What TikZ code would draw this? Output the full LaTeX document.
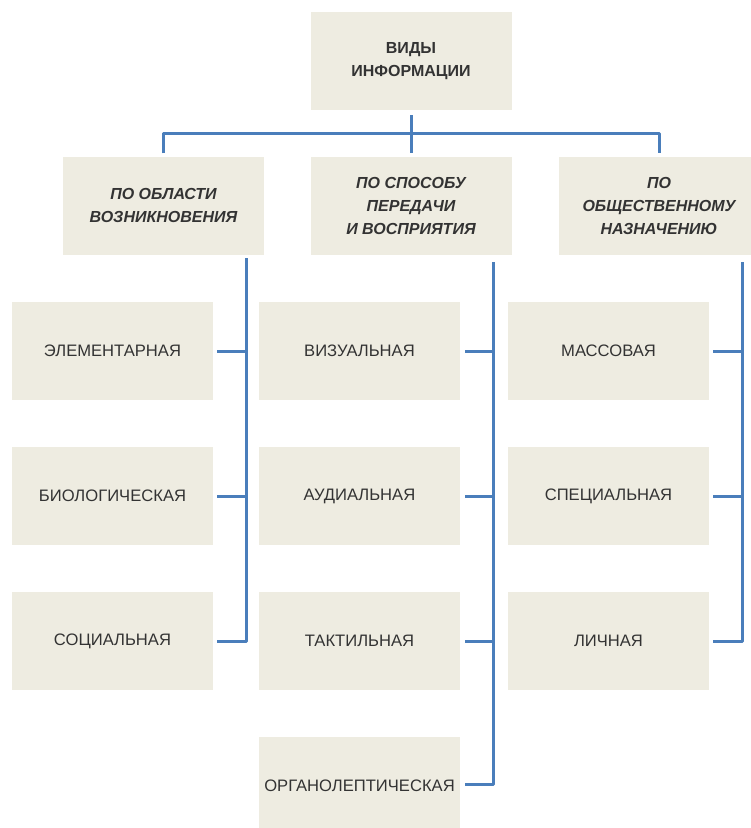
\documentclass[tikz,border=0pt]{standalone}
\usepackage{fontspec}
\setmainfont{Liberation Sans}
\definecolor{boxfill}{HTML}{EEECE1}
\definecolor{linecol}{HTML}{4A7EBB}
\definecolor{txt}{HTML}{333333}
\begin{document}
\begin{tikzpicture}[x=1pt,y=-1pt,
  box/.style={fill=boxfill,draw=none,minimum width=201pt,minimum height=98pt,inner sep=0pt,
    align=center,text=txt,font=\fontsize{16.6}{23}\selectfont},
  head/.style={box,font=\fontsize{16}{23}\selectfont\bfseries},
  cat/.style={box,font=\fontsize{16}{23}\selectfont\bfseries\itshape},
  conn/.style={draw=linecol,line width=3pt,line join=round,line cap=butt}]
\clip (0,0) rectangle (751,828);
\fill[white] (0,0) rectangle (751,828);
% top
\node[head] (top) at (411,61) {ВИДЫ\\ИНФОРМАЦИИ};
% level 2
\node[cat] (ca) at (163.5,205.5) {ПО ОБЛАСТИ\\ВОЗНИКНОВЕНИЯ};
\node[cat] (cb) at (411,205.5) {ПО СПОСОБУ\\ПЕРЕДАЧИ\\И ВОСПРИЯТИЯ};
\node[cat] (cc) at (659,205.5) {ПО\\ОБЩЕСТВЕННОМУ\\НАЗНАЧЕНИЮ};
% column A
\node[box] (a1) at (112.5,351) {ЭЛЕМЕНТАРНАЯ};
\node[box] (a2) at (112.5,496) {БИОЛОГИЧЕСКАЯ};
\node[box] (a3) at (112.5,641) {СОЦИАЛЬНАЯ};
% column B
\node[box] (b1) at (359.5,351) {ВИЗУАЛЬНАЯ};
\node[box] (b2) at (359.5,496) {АУДИАЛЬНАЯ};
\node[box] (b3) at (359.5,641) {ТАКТИЛЬНАЯ};
\node[box] (b4) at (359.5,786) {ОРГАНОЛЕПТИЧЕСКАЯ};
% column C
\node[box] (c1) at (608.5,351) {МАССОВАЯ};
\node[box] (c2) at (608.5,496) {СПЕЦИАЛЬНАЯ};
\node[box] (c3) at (608.5,641) {ЛИЧНАЯ};
% bus
\coordinate (busL) at (163,133);
\coordinate (busR) at (659,133);
\draw[conn] ([yshift=-5pt]top.south) -- (top.south |- busL);
\draw[conn] ([yshift=3pt]ca.north -| busL) -- (busL) -- (busR) -- ([yshift=3pt]cc.north -| busR);
\draw[conn] (top.south |- busL) -- ([yshift=3pt]cb.north);
% spines
\coordinate (sa) at (246,258);
\coordinate (sb) at (493,262);
\coordinate (sc) at (742,262);
\draw[conn] (sa) -- (sa |- a3.east) -- ([xshift=4pt]a3.east);
\draw[conn] ([xshift=4pt]a1.east) -- (sa |- a1.east);
\draw[conn] ([xshift=4pt]a2.east) -- (sa |- a2.east);
\draw[conn] (sb) -- ([yshift=2pt]sb |- b4.east) -- ([xshift=5pt,yshift=2pt]b4.east);
\draw[conn] ([xshift=5pt]b1.east) -- (sb |- b1.east);
\draw[conn] ([xshift=5pt]b2.east) -- (sb |- b2.east);
\draw[conn] ([xshift=5pt]b3.east) -- (sb |- b3.east);
\draw[conn] (sc) -- (sc |- c3.east) -- ([xshift=4pt]c3.east);
\draw[conn] ([xshift=4pt]c1.east) -- (sc |- c1.east);
\draw[conn] ([xshift=4pt]c2.east) -- (sc |- c2.east);
\end{tikzpicture}
\end{document}
